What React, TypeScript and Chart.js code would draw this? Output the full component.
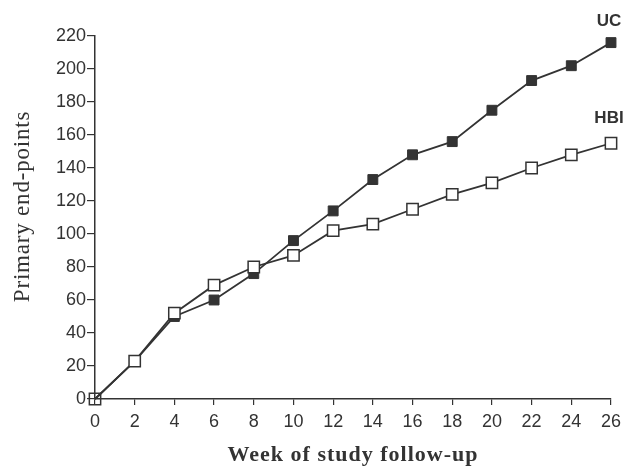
import React, { useEffect, useRef } from "react";
import { Chart, registerables } from "chart.js";

Chart.register(...registerables);

const weeks = [0, 2, 4, 6, 8, 10, 12, 14, 16, 18, 20, 22, 24, 26];
const ucValues = [0, 23, 50, 60, 76, 96, 114, 133, 148, 156, 175, 193, 202, 216];
const hbiValues = [0, 23, 52, 69, 80, 87, 102, 106, 115, 124, 131, 140, 148, 155];
const yTicks = [0, 20, 40, 60, 80, 100, 120, 140, 160, 180, 200, 220];
const xTitle = "Week of study follow-up";
const yTitle = "Primary end-points";
const seriesLabels = ["HBI", "UC"];

const INK = "#333333";
const SANS = "'Liberation Sans', Arial, sans-serif";
const SERIF = "'Liberation Serif', 'Times New Roman', serif";

const labelPlugin = {
  id: "endLabels",
  afterDatasetsDraw(chart: any) {
    const ctx = chart.ctx;
    ctx.save();
    ctx.fillStyle = INK;
    ctx.font = `bold 17px ${SANS}`;
    ctx.textAlign = "center";
    ctx.textBaseline = "middle";
    const offsets = [-25, -21];
    chart.data.datasets.forEach((ds: any, i: number) => {
      const meta = chart.getDatasetMeta(i);
      const last = meta.data[meta.data.length - 1];
      ctx.fillText(ds.label, last.x - 2, last.y + offsets[i]);
    });
    const area = chart.chartArea;
    // x axis title
    ctx.save();
    ctx.font = `bold 22px ${SERIF}`;
    (ctx as any).letterSpacing = "1px";
    ctx.fillText(xTitle, (area.left + area.right) / 2, 455);
    ctx.restore();
    // y axis title
    ctx.font = `23px ${SERIF}`;
    (ctx as any).letterSpacing = "0.8px";
    ctx.translate(23, (area.top + area.bottom) / 2 - 11);
    ctx.rotate(-Math.PI / 2);
    ctx.fillText(yTitle, 0, 0);
    ctx.restore();
  },
};

export default function App() {
  const ref = useRef<HTMLCanvasElement>(null);
  useEffect(() => {
    if (!ref.current) return;
    const chart = new Chart(ref.current, {
      type: "line",
      data: {
        datasets: [
          {
            label: seriesLabels[0],
            data: weeks.map((w, i) => ({ x: w, y: hbiValues[i] })),
            borderColor: INK,
            borderWidth: 1.8,
            pointStyle: "rect",
            pointRadius: 8,
            pointBorderWidth: 1.5,
            pointBorderColor: INK,
            pointBackgroundColor: (c: any) => (c.dataIndex === 0 ? "rgba(0,0,0,0)" : "#ffffff"),
            order: 0,
          },
          {
            label: seriesLabels[1],
            data: weeks.map((w, i) => ({ x: w, y: ucValues[i] })),
            borderColor: INK,
            borderWidth: 1.8,
            pointStyle: "rect",
            pointRadius: (c: any) => (c.dataIndex === 0 ? 0 : 7),
            pointBorderWidth: 1,
            pointBorderColor: INK,
            pointBackgroundColor: INK,
            order: 1,
          },
        ],
      },
      options: {
        responsive: false,
        animation: false,
        clip: false as any,
        layout: { padding: { top: 36, right: 18, left: 0, bottom: 0 } },
        plugins: { legend: { display: false }, tooltip: { enabled: false } },
        scales: {
          x: {
            type: "linear",
            min: 0,
            max: 26,
            afterBuildTicks: (s: any) => {
              s.ticks = weeks.map((v) => ({ value: v }));
            },
            afterFit: (s: any) => {
              s.height = 68;
            },
            ticks: {
              color: INK,
              font: { family: SANS, size: 18 },
              padding: 6,
              maxRotation: 0,
            },
            grid: { drawOnChartArea: false, drawTicks: true, tickLength: 6, color: INK, lineWidth: 1.2 },
            border: { display: true, color: INK, width: 1.5 },
          },
          y: {
            type: "linear",
            min: 0,
            max: 220,
            afterBuildTicks: (s: any) => {
              s.ticks = yTicks.map((v) => ({ value: v }));
            },
            afterFit: (s: any) => {
              s.width = 95;
            },
            ticks: {
              color: INK,
              font: { family: SANS, size: 18 },
              padding: 1,
            },
            grid: { drawOnChartArea: false, drawTicks: true, tickLength: 8, color: INK, lineWidth: 1.2 },
            border: { display: true, color: INK, width: 1.5 },
          },
        },
      },
      plugins: [labelPlugin],
    } as any);
    return () => chart.destroy();
  }, []);
  return (
    <canvas
      ref={ref}
      width={629}
      height={467}
      style={{ position: "absolute", left: 0, top: 0, display: "block", background: "#fff" }}
    />
  );
}
